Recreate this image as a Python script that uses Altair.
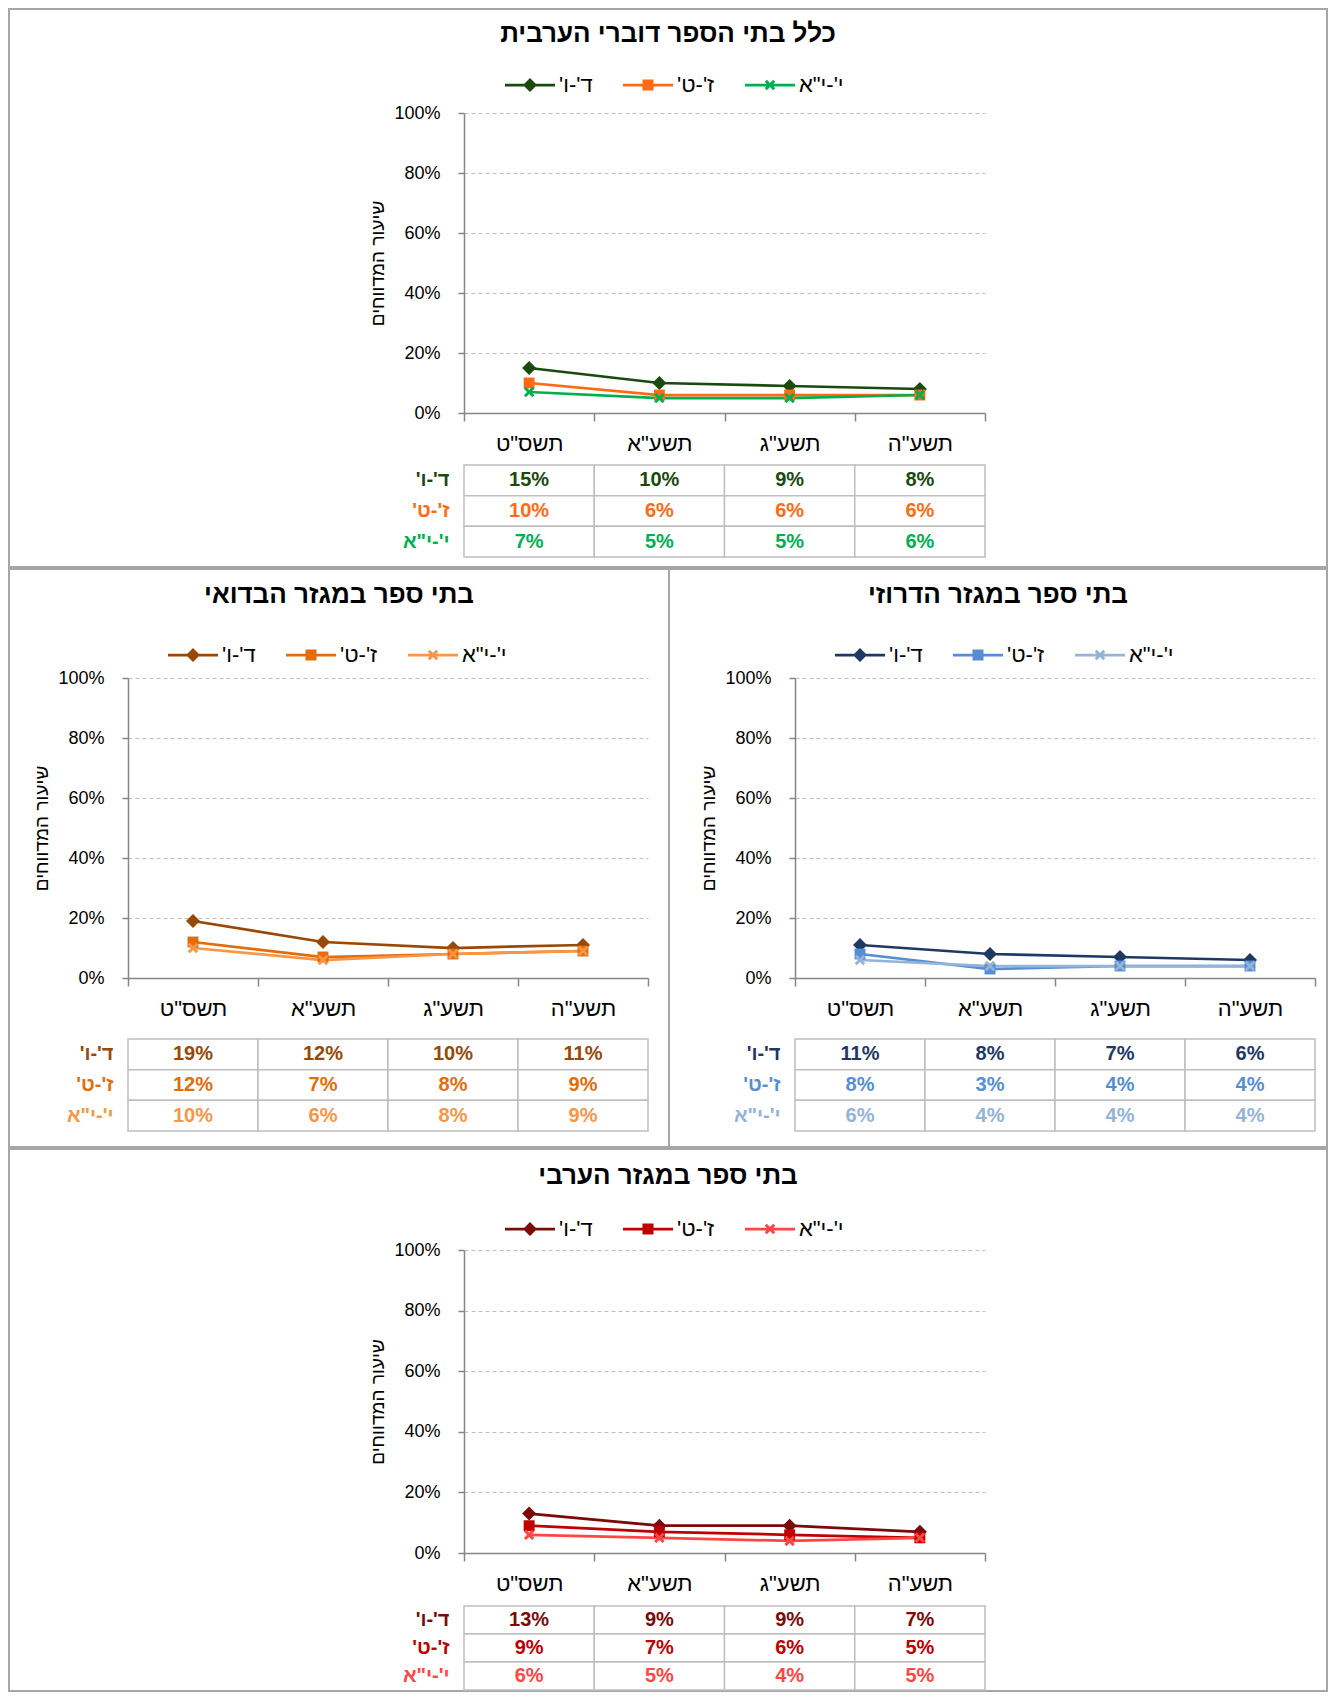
import altair as alt
import pandas as pd

FONT = "Liberation Sans"
RLM = "\u200f"
AXIS_GRAY = "#868686"
FRAME_GRAY = "#a6a6a6"
CELL_GRAY = "#bfbfbf"

# ---------------- data ----------------
categories = ["תשס\"ט", "תשע\"א", "תשע\"ג", "תשע\"ה"]
grades = ["ד'-ו'" + RLM, "ז'-ט'" + RLM, "י'-י\"א" + RLM]
y_ticks = [0, 0.2, 0.4, 0.6, 0.8, 1.0]
y_title = "שיעור המדווחים"

title_all = "כלל בתי הספר דוברי הערבית"
title_bedouin = "בתי ספר במגזר הבדואי"
title_druze = "בתי ספר במגזר הדרוזי"
title_arab = "בתי ספר במגזר הערבי"

all_d_v = [15, 10, 9, 8]
all_z_t = [10, 6, 6, 6]
all_y_ya = [7, 5, 5, 6]

bedouin_d_v = [19, 12, 10, 11]
bedouin_z_t = [12, 7, 8, 9]
bedouin_y_ya = [10, 6, 8, 9]

druze_d_v = [11, 8, 7, 6]
druze_z_t = [8, 3, 4, 4]
druze_y_ya = [6, 4, 4, 4]

arab_d_v = [13, 9, 9, 7]
arab_z_t = [9, 7, 6, 5]
arab_y_ya = [6, 5, 4, 5]

all_colors = ["#1b4a10", "#ff6a13", "#00b050"]
bedouin_colors = ["#984807", "#e46c0a", "#f79646"]
druze_colors = ["#1f3864", "#558ed5", "#95b3d7"]
arab_colors = ["#7b0a0a", "#c00000", "#ff4545"]

# marker shapes (plot) and legend symbols (line + marker)
X_PATH = ("M-0.75,-0.45L-0.45,-0.75L0,-0.3L0.45,-0.75L0.75,-0.45L0.3,0"
          "L0.75,0.45L0.45,0.75L0,0.3L-0.45,0.75L-0.75,0.45L-0.3,0Z")
MARK_PATHS = ["M0,-1L1,0L0,1L-1,0Z", "M-0.78,-0.78H0.78V0.78H-0.78Z", X_PATH]
LINE_SEG = "M-1,-0.055H1V0.055H-1Z "
LEGEND_PATHS = [
    LINE_SEG + "M0,-0.28L0.28,0L0,0.28L-0.28,0Z",
    LINE_SEG + "M-0.22,-0.22H0.22V0.22H-0.22Z",
    LINE_SEG + ("M-0.21,-0.126L-0.126,-0.21L0,-0.084L0.126,-0.21L0.21,-0.126L0.084,0"
                "L0.21,0.126L0.126,0.21L0,0.084L-0.126,0.21L-0.21,0.126L-0.084,0Z"),
]


def build_panel(title, series, colors, W, H, x0, x1, ptop, pbot, ttop, tbot,
                title_y, leg_x, leg_y):
    rows = []
    for g, vals in zip(grades, series):
        for i, (c, v) in enumerate(zip(categories, vals)):
            rows.append({"cat": c, "grade": g, "idx": i,
                         "value": v / 100.0, "label": f"{v}%"})
    df = pd.DataFrame(rows)

    xscale = alt.Scale(type="band", domain=categories, range=[x0, x1],
                       paddingInner=0, paddingOuter=0)
    yscale = alt.Scale(domain=[0, 1], range=[pbot, ptop], nice=False)
    tscale = alt.Scale(type="band", domain=grades, range=[ttop, tbot],
                       paddingInner=0, paddingOuter=0)
    cscale = alt.Scale(domain=grades, range=colors)

    label_color = {
        "condition": [
            {"test": "indexof(datum.value, 'ד') >= 0", "value": colors[0]},
            {"test": "indexof(datum.value, 'ז') >= 0", "value": colors[1]},
        ],
        "value": colors[2],
    }

    def xaxis():
        return alt.Axis(orient="bottom", offset=pbot - H, title=None, labelAngle=0,
                        tickBand="extent", domainColor=AXIS_GRAY, domainWidth=1.5,
                        tickColor=AXIS_GRAY, tickWidth=1.5, tickSize=8,
                        labelFontSize=22, labelPadding=12, labelColor="black",
                        labelFont=FONT, grid=False)

    yaxis = alt.Axis(orient="left", offset=-x0, values=y_ticks, format=".0%",
                     grid=True, gridColor="#c0c0c0", gridDash=[4, 3], gridWidth=1,
                     domainColor=AXIS_GRAY, domainWidth=1.5, tickColor=AXIS_GRAY,
                     tickWidth=1.5, tickSize=6, labelFontSize=18, labelPadding=18,
                     labelColor="black", labelFont=FONT, titleFont=FONT,
                     titleFontSize=19, titleFontWeight="normal",
                     titleColor="black", titlePadding=6)
    rowaxis = alt.Axis(orient="left", offset=-x0, domain=False, ticks=False,
                       tickSize=0, grid=False, title=None, labelFontSize=20,
                       labelFontWeight="bold", labelPadding=15, labelFont=FONT,
                       labelColor=label_color)

    def xenc():
        return alt.X("cat:N", scale=xscale, axis=xaxis())

    base = alt.Chart(df)

    lines = base.mark_line(strokeWidth=2.75).encode(
        x=xenc(),
        y=alt.Y("value:Q", scale=yscale, axis=yaxis, title=y_title),
        color=alt.Color("grade:N", scale=cscale, legend=None),
        order=alt.Order("idx:Q"),
    )
    points = base.mark_point(filled=True, size=196, opacity=1, strokeWidth=0).encode(
        x=xenc(),
        y=alt.Y("value:Q", scale=yscale, axis=None),
        color=alt.Color("grade:N", scale=cscale, legend=None),
        shape=alt.Shape("grade:N", scale=alt.Scale(domain=grades, range=MARK_PATHS),
                        legend=None),
    )
    cells = base.mark_rect(fill="white", stroke=CELL_GRAY, strokeWidth=1.5).encode(
        x=xenc(),
        y=alt.Y("grade:N", scale=tscale, axis=rowaxis),
    )
    texts = base.mark_text(fontSize=20, fontWeight="bold", font=FONT).encode(
        x=xenc(),
        y=alt.Y("grade:N", scale=tscale, axis=None),
        text="label:N",
        color=alt.Color("grade:N", scale=cscale, legend=None),
    )

    def leg():
        return alt.Legend(orient="none", legendX=leg_x, legendY=leg_y,
                          direction="horizontal", title=None, symbolSize=2500,
                          symbolStrokeWidth=0, symbolOpacity=1, labelFontSize=22,
                          labelFont=FONT, labelColor="black", labelOffset=4,
                          columnPadding=30, padding=0)

    legend_layer = base.transform_filter("false").mark_point(
        filled=True, opacity=1, strokeWidth=0).encode(
        color=alt.Color("grade:N", scale=cscale, legend=leg()),
        shape=alt.Shape("grade:N", scale=alt.Scale(domain=grades, range=LEGEND_PATHS),
                        legend=leg()),
    )

    # panel heading, centred inside the framed panel
    heading = alt.Chart(pd.DataFrame({"t": [title]})).mark_text(
        fontSize=26, fontWeight="bold", font=FONT, color="black",
        baseline="middle", align="center",
    ).encode(text="t:N", x=alt.value(W / 2), y=alt.value(title_y))

    return alt.layer(lines, points, cells, texts, legend_layer, heading).resolve_scale(
        y="independent", color="independent", shape="independent"
    ).properties(
        width=W, height=H,
        view=alt.ViewBackground(fill="white", stroke=FRAME_GRAY, strokeWidth=2),
    )


top = build_panel(title_all, [all_d_v, all_z_t, all_y_ya], all_colors,
                  1318, 558, 455, 976, 104, 404, 456, 548, 25, 496, 51)
bedouin = build_panel(title_bedouin, [bedouin_d_v, bedouin_z_t, bedouin_y_ya],
                      bedouin_colors, 660, 578, 119, 639, 109, 409, 470, 562, 26, 159, 61)
druze = build_panel(title_druze, [druze_d_v, druze_z_t, druze_y_ya],
                    druze_colors, 658, 578, 126, 646, 109, 409, 470, 562, 26, 166, 61)
arab = build_panel(title_arab, [arab_d_v, arab_z_t, arab_y_ya], arab_colors,
                   1318, 542, 455, 976, 101, 404, 457, 541, 27, 496, 55)

chart = alt.vconcat(
    top,
    alt.hconcat(bedouin, druze, spacing=0, bounds="flush"),
    arab,
    spacing=0,
).properties(padding=0).configure(font=FONT)

chart.save("out.html", embed_options={"renderer": "svg", "actions": False})
